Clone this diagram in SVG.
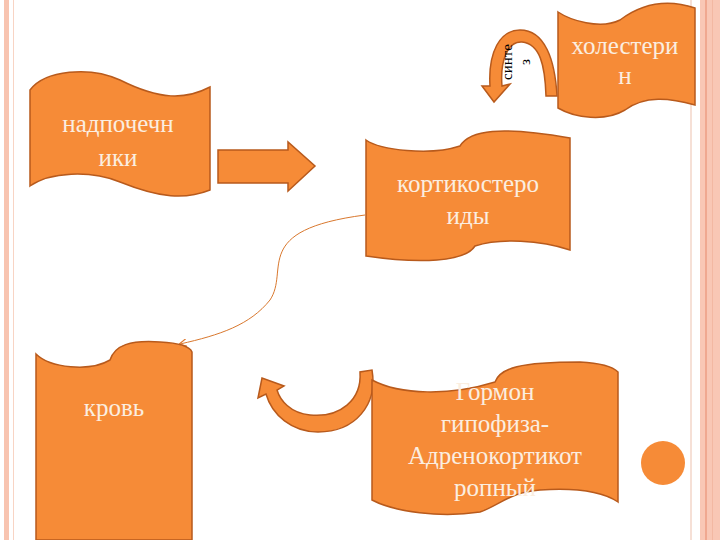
<svg xmlns="http://www.w3.org/2000/svg" width="720" height="540" viewBox="0 0 720 540">
<style>
.b{fill:#f68b37;stroke:#b85a1c;stroke-width:1.5}
.t{font-family:'Liberation Serif','DejaVu Serif','Times New Roman',serif;fill:#fbeee0;text-anchor:middle;font-size:25px}
.s{font-family:'Liberation Serif','DejaVu Serif',serif;font-size:15px;text-anchor:middle;fill:#000}
</style>
<defs>
<marker id="ah" markerWidth="8" markerHeight="8" refX="7" refY="4" orient="auto"><path d="M0,0 L8,4 L0,8" fill="none" stroke="#e07a30" stroke-width="1.2"/></marker>
</defs>
<rect width="720" height="540" fill="#fff"/>
<rect x="4" y="0" width="5" height="540" fill="#f8c4b0"/>
<rect x="13" y="0" width="1" height="540" fill="#f8d4c4"/>
<rect x="690" y="0" width="2" height="540" fill="#f6e0d6"/>
<rect x="700" y="0" width="20" height="540" fill="#f9c7b5"/>
<rect x="705" y="0" width="2" height="540" fill="#f0a890"/>
<rect x="712" y="0" width="1" height="540" fill="#f3b8a2"/>
<g id="connectors">
<path d="M365,215 C250,230 290,270 270,300 C250,325 220,335 180,344" fill="none" stroke="#d9782e" stroke-width="1" marker-end="url(#ah)"/>
<path d="M218,150 H288 V142 L315,166 L288,191 V183 H218 Z" class="b"/>
<path d="M546,96 C545,65 540,44 522,42 C507,41 500,62 502,86 L510,84 L494,102 L482,86 L490,86 C488,52 500,30 520,30 C545,30 555,60 557,96 Z" class="b"/>
<text transform="translate(512,62) rotate(-90)" class="s">синте</text>
<text transform="translate(530,62) rotate(-90)" class="s">з</text>
<path d="M360,372 C362,400 340,418 310,415 C290,413 280,400 277,390 L284,386 L262,378 L258,398 L266,394 C272,415 292,432 318,432 C355,432 378,405 372,370 Z" class="b"/>
</g>
<g id="n1"><path class="b" d="M30,90 C45,70 90,66 120,80 C160,100 185,100 210,87 L210,190 C185,200 160,198 120,182 C90,170 50,172 30,186 Z"/>
<text class="t" x="118" y="132">надпочечн</text><text class="t" x="118" y="166">ики</text></g>
<g id="n2"><path class="b" d="M366,140 C380,150 430,156 460,146 C470,130 500,126 570,138 L570,250 C540,240 500,238 475,246 C465,262 420,264 366,256 Z"/>
<text class="t" x="468" y="192">кортикостеро</text><text class="t" x="468" y="224">иды</text></g>
<g id="n3"><path class="b" d="M558,12 C570,20 600,30 620,20 C640,5 665,-2 695,8 L695,105 C670,98 645,95 625,110 C605,122 575,118 558,108 Z"/>
<text class="t" x="625" y="54">холестери</text><text class="t" x="625" y="84">н</text></g>
<g id="n4"><path class="b" d="M36,354 C50,368 90,372 110,360 C115,345 130,340 160,342 C180,343 190,347 192,352 L192,540 L36,540 Z"/>
<text class="t" x="114" y="416">кровь</text></g>
<g id="n5"><path class="b" d="M372,380 C400,395 450,396 495,382 C500,368 520,362 580,362 C600,363 612,366 618,372 L618,502 C600,490 570,488 540,490 C510,492 500,505 480,512 C440,518 395,512 372,500 Z"/>
<text class="t" x="495" y="400">Гормон</text><text class="t" x="495" y="432">гипофиза-</text><text class="t" x="495" y="464">Адренокортикот</text><text class="t" x="495" y="496">ропный</text></g>
<circle cx="663" cy="463" r="22" fill="#f68b37"/>
</svg>
